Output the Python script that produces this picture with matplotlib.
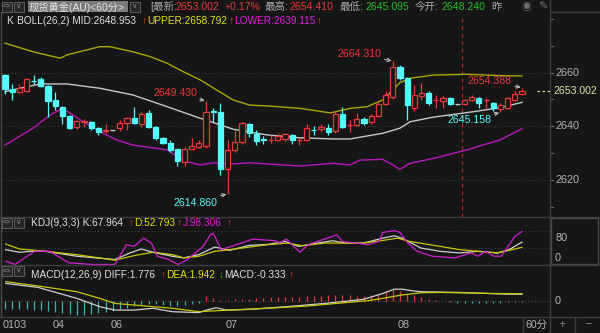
import matplotlib.pyplot as plt
import numpy as np
from matplotlib.patches import Rectangle
from matplotlib.transforms import blended_transform_factory as blend

plt.rcParams['font.family'] = ['Liberation Sans', 'Noto Sans CJK SC', 'DejaVu Sans']

# 60分钟K线 (开, 高, 低, 收)
opens = [2659.1, 2653.9, 2652.7, 2653.3, 2657.0, 2657.5, 2655.0, 2649.8, 2647.3, 2643.8,
         2639.6, 2641.7, 2641.7, 2639.5, 2638.4, 2638.5, 2639.3, 2641.1, 2643.0, 2640.7,
         2644.8, 2639.9, 2635.7, 2633.9, 2631.4, 2626.8, 2631.4, 2632.4, 2632.6, 2645.7,
         2645.4, 2624.0, 2631.2, 2634.3, 2640.9, 2637.1, 2635.1, 2634.9, 2634.9, 2635.2,
         2636.7, 2634.8, 2634.9, 2638.7, 2639.1, 2639.5, 2638.2, 2644.5, 2640.4, 2640.5,
         2642.6, 2641.7, 2643.8, 2648.2, 2651.0, 2662.2, 2658.1, 2646.7, 2651.4, 2652.5,
         2649.7, 2649.4, 2650.7, 2648.2, 2648.2, 2649.8, 2650.7, 2649.7, 2648.6, 2646.4,
         2646.7, 2649.8, 2652.2]
highs = [2659.5, 2655.7, 2655.8, 2657.9, 2659.1, 2658.3, 2655.3, 2652.7, 2647.6, 2644.2,
         2642.3, 2642.6, 2642.0, 2639.8, 2640.9, 2638.6, 2642.3, 2643.5, 2647.3, 2645.4,
         2646.1, 2640.2, 2636.0, 2634.9, 2631.6, 2632.4, 2635.5, 2634.9, 2649.43, 2646.7,
         2648.8, 2634.9, 2638.6, 2641.7, 2641.2, 2638.6, 2636.3, 2636.7, 2637.4, 2637.5,
         2637.0, 2635.8, 2640.8, 2640.0, 2640.7, 2640.7, 2645.7, 2647.3, 2642.4, 2644.8,
         2643.6, 2644.6, 2649.2, 2653.0, 2664.31, 2663.0, 2658.4, 2655.5, 2656.0, 2653.0,
         2651.7, 2651.4, 2651.0, 2648.3, 2650.2, 2651.5, 2651.0, 2650.7, 2649.2, 2648.6,
         2651.0, 2653.2, 2654.388]
lows = [2652.1, 2649.8, 2652.3, 2652.9, 2655.8, 2654.8, 2643.6, 2646.1, 2640.9, 2639.1,
        2638.9, 2639.8, 2638.6, 2636.6, 2637.4, 2638.4, 2638.2, 2638.6, 2640.8, 2639.8,
        2639.2, 2634.9, 2633.4, 2630.6, 2625.2, 2625.2, 2631.0, 2632.0, 2632.0, 2641.7,
        2621.8, 2614.86, 2630.3, 2633.5, 2636.1, 2633.0, 2633.4, 2633.9, 2634.6, 2634.5,
        2633.5, 2632.9, 2634.5, 2636.7, 2638.0, 2636.7, 2637.4, 2639.5, 2638.0, 2640.2,
        2640.6, 2641.0, 2643.4, 2647.8, 2650.0, 2657.2, 2642.4, 2645.8, 2649.8, 2648.0,
        2646.7, 2646.9, 2647.9, 2648.1, 2647.8, 2649.4, 2646.7, 2646.7, 2645.6, 2645.158,
        2646.4, 2649.4, 2651.6]
closes = [2653.8, 2652.7, 2654.2, 2657.6, 2656.9, 2655.0, 2649.6, 2647.6, 2643.8, 2639.5,
          2642.0, 2641.8, 2639.5, 2638.0, 2638.5, 2638.5, 2641.1, 2643.2, 2641.1, 2644.6,
          2639.9, 2635.5, 2633.9, 2631.2, 2627.2, 2631.4, 2632.6, 2633.7, 2645.4, 2645.4,
          2624.0, 2631.2, 2634.3, 2641.1, 2637.6, 2634.5, 2634.9, 2635.0, 2636.4, 2637.0,
          2634.9, 2634.9, 2639.3, 2638.5, 2639.9, 2638.0, 2644.5, 2639.9, 2640.6, 2642.6,
          2641.1, 2644.0, 2648.2, 2651.7, 2662.2, 2658.1, 2648.0, 2651.7, 2652.3, 2648.6,
          2649.9, 2650.4, 2648.2, 2648.2, 2649.8, 2651.0, 2648.6, 2649.9, 2646.7, 2648.0,
          2650.4, 2651.9, 2653.002]

# BOLL(26,2) 读取的采样点 (K线序号, 价格)
upper_idx = [0, 3.9, 7.7, 8.6, 13.2, 14.6, 17.8, 20.2, 22.6, 24.8, 27.2, 29.5, 31.8, 34.1, 36.5,
             41.1, 45.3, 48.1, 50.4, 52.6, 54.0, 55.0, 56.4, 59.6, 64.3, 68.9, 72]
upper_val = [2671.0, 2667.8, 2665.4, 2666.6, 2669.7, 2669.7, 2667.8, 2666.0, 2663.5, 2660.4,
             2657.3, 2653.5, 2649.8, 2647.9, 2647.6, 2646.7, 2645.0, 2646.7, 2647.3, 2649.8,
             2653.5, 2656.3, 2657.9, 2659.1, 2659.4, 2658.9, 2658.792]
mid_idx = [0, 2.1, 4.9, 8.6, 13.2, 17.8, 22.6, 27.2, 31.8, 36.5, 41.1, 45.7, 48.1, 52.6, 55.0,
           56.4, 59.6, 64.3, 68.9, 72]
mid_val = [2652.9, 2654.2, 2655.8, 2655.8, 2654.2, 2651.7, 2647.3, 2643.0, 2638.9, 2636.8,
           2635.7, 2635.3, 2635.3, 2637.4, 2639.3, 2641.7, 2643.4, 2645.1, 2646.9, 2648.953]
lower_idx = [0, 3.9, 6.3, 7.7, 8.6, 10.9, 13.2, 15.6, 17.8, 22.6, 24.8, 27.2, 29.0, 31.8, 34.1,
             41.1, 45.7, 48.1, 49.4, 52.6, 54.0, 55.0, 56.4, 59.6, 64.3, 68.9, 72]
lower_val = [2633.0, 2639.3, 2644.2, 2646.3, 2645.7, 2641.7, 2638.0, 2634.9, 2633.0, 2631.2,
             2627.2, 2625.6, 2626.4, 2626.0, 2626.4, 2625.2, 2626.2, 2625.6, 2627.4, 2627.7,
             2625.6, 2624.0, 2626.2, 2628.0, 2631.2, 2634.9, 2639.115]

# KDJ(9,3,3)
k_idx = [0.1, 2.0, 3.6, 5.7, 10.0, 15.3, 17.4, 19.0, 20.6, 23.3, 24.9, 27.0, 29.2, 31.3, 34.0,
         36.6, 39.0, 40.9, 43.5, 45.7, 47.3, 49.9, 52.6, 54.2, 55.3, 57.9, 60.6, 63.3, 65.9,
         68.6, 70.2, 72]
k_val = [46.2, 38.6, 41.4, 41.4, 27.2, 17.7, 36.7, 48.1, 38.6, 27.2, 22.5, 31.9, 53.7, 44.3,
         58.5, 61.3, 69.9, 55.6, 65.1, 71.8, 65.1, 65.1, 79.3, 86.0, 79.3, 50.9, 41.4, 36.7,
         41.4, 36.7, 46.2, 67.964]
d_idx = [0.1, 2.0, 4.6, 10.0, 15.3, 18.0, 20.6, 23.3, 24.9, 27.0, 29.2, 31.3, 36.6, 39.3, 41.4,
         44.6, 47.3, 49.9, 52.6, 54.7, 56.3, 60.6, 63.3, 65.9, 68.6, 72]
d_val = [62.3, 48.1, 43.3, 31.9, 15.8, 29.1, 38.6, 31.9, 22.5, 27.2, 41.4, 46.2, 60.4, 65.1,
         57.5, 65.1, 65.1, 65.1, 72.7, 79.3, 69.9, 55.6, 46.2, 41.4, 36.7, 52.793]
j_idx = [0.1, 1.4, 4.1, 6.2, 8.9, 12.1, 15.3, 16.9, 18.0, 19.3, 20.4, 21.2, 22.8, 24.1, 25.4,
         26.5, 27.6, 28.6, 29.0, 30.1, 32.9, 34.5, 37.7, 38.2, 39.2, 40.1, 41.1, 42.2, 43.5,
         44.9, 46.2, 47.0, 48.9, 50.5, 52.1, 52.6, 54.2, 55.0, 56.1, 57.4, 59.5, 62.7, 64.9,
         65.9, 66.9, 68.1, 69.1, 69.9, 71.0, 72]
j_val = [13.0, 3.5, 41.4, 41.4, 8.2, 3.5, 3.5, 60.4, 55.6, 79.3, 65.1, 27.2, 17.7, 3.5, 17.7,
         36.7, 55.6, 88.8, 93.6, 46.2, 65.1, 76.5, 71.8, 65.1, 76.5, 57.5, 38.6, 60.4, 69.9,
         79.3, 88.8, 69.9, 65.1, 60.4, 69.9, 95.5, 101.1, 95.5, 65.1, 41.4, 27.2, 22.5, 36.7,
         27.2, 41.4, 27.2, 27.2, 50.9, 84.1, 98.306]

# MACD(12,26,9)
diff_idx = [0.1, 4.6, 10.0, 13.2, 15.3, 18.0, 20.6, 23.3, 27.0, 28.1, 29.4, 30.8, 34.0, 39.3,
            44.6, 49.9, 52.6, 54.2, 55.3, 56.9, 57.9, 63.3, 68.6, 72]
diff_val = [4.8, 3.7, 0.65, -1.65, -2.6, -2.6, -2.1, -3.05, -3.3, -2.6, -1.95, -2.6, -2.4,
            -1.65, -0.74, 0.37, 2.0, 3.2, 3.2, 2.7, 2.5, 2.3, 1.9, 1.776]
dea_idx = [0.1, 4.6, 10.0, 13.2, 15.3, 20.6, 23.3, 27.0, 29.2, 31.3, 36.6, 41.9, 47.3, 50.5,
           52.6, 55.3, 57.9, 60.6, 65.9, 68.6, 72]
dea_val = [5.3, 4.1, 2.5, 0.65, -0.74, -1.65, -2.1, -3.05, -2.8, -2.6, -2.1, -1.5, -0.55, 0.0,
           0.65, 1.6, 2.2, 2.3, 2.1, 2.0, 1.942]
macd_bar = [-2.4, -2.4, -2.4, -2.4, -2.5, -2.7, -2.9, -3.2, -3.5, -3.8,
            -3.9, -3.9, -3.7, -3.5, -3.2, -2.8, -2.3, -1.9, -1.5, -1.2,
            -1.0, -1.0, -1.2, -1.4, -1.5, -1.3, -1.0, -0.6, 1.3, 0.8,
            0.3, 0.2, 0.4, 0.5, 0.6, 0.7, 0.8, 0.9, 1.0, 1.0,
            1.1, 1.1, 1.2, 1.3, 1.4, 1.5, 1.6, 1.6, 1.5, 1.4,
            1.3, 1.6, 2.0, 2.6, 3.3, 2.6, 2.0, 1.5, 1.0, 0.6,
            0.3, -0.2, -0.4, -0.5, -0.6, -0.6, -0.6, -0.6, -0.5, -0.5,
            -0.4, -0.4, -0.333]

day_idx = [0, 7, 15, 31, 55]
day_labels = ['0103', '04', '06', '07', '08']
price_ticks = [2660, 2640, 2620]
now_idx = 63.7   # 红色竖虚线

bg = '#161616'
red = '#e8383c'
cyan = '#54fcfc'
grid_c = '#3a3a3a'
sep_c = '#3c3c3c'
W, H = 600, 333
TFS = 7.3   # 标题字号


def fx(x):
    return x / W


def fy(y):
    return 1 - y / H


fig = plt.figure(figsize=(6, 3.33), dpi=100, facecolor=bg)

ax = fig.add_axes([fx(1), fy(216.7), 549 / W, 216.7 / H])
ax_k = fig.add_axes([fx(1), fy(265), 549 / W, 48.3 / H])
ax_m = fig.add_axes([fx(1), fy(316.7), 549 / W, 51.7 / H])
for a in (ax, ax_k, ax_m):
    a.set_facecolor(bg)
    a.set_xlim(-0.557, 75.9)
    a.set_xticks([])
    a.set_yticks([])
    for s in a.spines.values():
        s.set_visible(False)
ax.set_ylim(2606.3, 2687.1)
ax_k.set_ylim(2, 141)
ax_m.set_ylim(-4.44, 9.92)

# 网格
for v in price_ticks:
    ax.axhline(v, color=grid_c, ls=(0, (1, 2)), lw=0.8)
for v in (100, 50):
    ax_k.axhline(v, color=grid_c, ls=(0, (1, 2)), lw=0.8)
ax_m.axhline(0, color='#505050', ls=(0, (1, 2)), lw=0.8)

# 布林带
ax.plot(upper_idx, upper_val, color='#a8a800', lw=1.0, zorder=2)
ax.plot(mid_idx, mid_val, color='#c8c8c8', lw=1.0, zorder=2)
ax.plot(lower_idx, lower_val, color='#b818b8', lw=1.0, zorder=2)

# K线
for i, (o, h, l, c) in enumerate(zip(opens, highs, lows, closes)):
    col = red if c > o else (cyan if c < o else '#c8c8c8')
    ax.vlines(i, l, h, color=col, lw=0.9, zorder=3)
    if c != o:
        fc = bg if c > o else col
        ax.add_patch(Rectangle((i - 0.36, min(o, c)), 0.72, abs(c - o),
                               facecolor=fc, edgecolor=col, lw=0.9, zorder=4))
    else:
        ax.hlines(o, i - 0.36, i + 0.36, color=col, lw=0.9, zorder=4)

ax.axvline(now_idx, color='#c02020', ls=(0, (3, 3)), lw=0.9, ymax=0.93, zorder=1)

# 高低点标注
marks = [(54, 2664.31, '2664.310', red, -11, 7),
         (28, 2649.43, '2649.430', red, -9, 8),
         (31, 2614.86, '2614.860', cyan, -10, -9),
         (72, 2654.388, '2654.388', red, -10, 7),
         (69, 2645.158, '2645.158', cyan, -9, -8)]
for i, v, t, c, dx, dy in marks:
    ax.annotate(t, xy=(i, v), xytext=(dx, dy), textcoords='offset pixels',
                ha='right', va='center', color=c, fontsize=7.6, zorder=6,
                arrowprops=dict(arrowstyle='->', color='#c8c8c8', lw=0.7,
                                shrinkA=0, shrinkB=1, mutation_scale=6))

# KDJ
ax_k.plot(k_idx, k_val, color='#d0d0d0', lw=0.9)
ax_k.plot(d_idx, d_val, color='#c8c800', lw=0.9)
ax_k.plot(j_idx, j_val, color='#d020d0', lw=0.9)

# MACD
bar_x = np.arange(len(macd_bar))
bar_c = [red if b > 0 else '#3cb4b4' for b in macd_bar]
ax_m.vlines(bar_x, 0, macd_bar, colors=bar_c, lw=0.9)
ax_m.plot(diff_idx, diff_val, color='#d0d0d0', lw=0.9)
ax_m.plot(dea_idx, dea_val, color='#c8c800', lw=0.9)

# 右侧价格刻度
tr = blend(fig.transFigure, ax.transData)
for v in price_ticks:
    ax.text(fx(555), v, str(v), transform=tr, color='#b4b4b4', fontsize=7.8,
            va='center', ha='left')
for v in range(2610, 2690, 10):
    ax.plot([fx(550), fx(553)], [v, v], transform=tr, color='#6a6a6a', lw=0.8, clip_on=False)
last = closes[-1]
ax.plot([fx(537), fx(550)], [last, last], transform=tr, color='#d8d880',
        ls=(0, (2, 2)), lw=0.9, clip_on=False)
ax.text(fx(554), last, '%.3f' % last, transform=tr, color='#e0e0a0', fontsize=7.6,
        va='center', ha='left')
trk = blend(fig.transFigure, ax_k.transData)
ax_k.text(fx(555), 80, '80', transform=trk, color='#b4b4b4', fontsize=7.8, va='center')
ax_k.text(fx(555), 23, '0', transform=trk, color='#b4b4b4', fontsize=7.8, va='center')
trm = blend(fig.transFigure, ax_m.transData)
ax_m.text(fx(555), 0, '0', transform=trm, color='#b4b4b4', fontsize=7.8, va='center')

# 日期
trx = blend(ax_m.transData, fig.transFigure)
for i, lab in zip(day_idx, day_labels):
    ax_m.text(i - 0.3, fy(325), lab, transform=trx, color='#b4b4b4', fontsize=7.8,
              va='center', ha='left')


# 分隔线
def hline(y, x0=0, x1=600, c=sep_c):
    fig.add_artist(plt.Line2D([fx(x0), fx(x1)], [fy(y), fy(y)], color=c, lw=1))


def vline(x, y0=0, y1=333, c=sep_c):
    fig.add_artist(plt.Line2D([fx(x), fx(x)], [fy(y0), fy(y1)], color=c, lw=1))


vline(550)
vline(1, 12, 317, '#4a4a4a')
hline(216.7)
hline(265)
hline(316.7)
hline(12, 550, 600)
vline(575, 317, 333)
vline(523, 317, 333)
fig.add_artist(Rectangle((fx(551), fy(264)), 47 / W, 46.5 / H, transform=fig.transFigure,
                         fill=False, edgecolor='#4a4a4a', lw=1))


# 标题栏
def seg(x, y, t, c, fs=TFS, **kw):
    fig.text(fx(x), fy(y), t, color=c, fontsize=fs, va='center', ha='left', **kw)


def icon_box(x, y, t):
    fig.add_artist(Rectangle((fx(x), fy(y + 10)), 10 / W, 10 / H, transform=fig.transFigure,
                             facecolor='#262626', edgecolor='#5a5a5a', lw=0.8))
    fig.text(fx(x + 5), fy(y + 5), t, color='#9a9a9a', fontsize=5, ha='center', va='center')


gray = '#a8a8a8'
green = '#22c022'
icon_box(2, 1.5, '<>')
icon_box(14, 1.5, 'v')
fig.add_artist(Rectangle((fx(28), fy(12)), 100 / W, 10.5 / H, transform=fig.transFigure,
                         facecolor='#7a7a7a', edgecolor='none'))
seg(29, 7, '现货黄金(AU)<60分>', '#e6e6e6', 7.4)
icon_box(130, 1.5, 'v')
seg(150, 7, '[最新:', gray, 7.6)
seg(175, 7, '2653.002', red, 7.6)
seg(225, 7, '+0.17%', red, 7.6)
seg(265, 7, '最高:', gray, 7.6)
seg(289, 7, '2654.410', red, 7.6)
seg(340, 7, '最低:', gray, 7.6)
seg(366, 7, '2645.095', green, 7.6)
seg(415, 7, '今开:', gray, 7.6)
seg(442, 7, '2648.240', green, 7.6)
seg(491, 7, '昨', gray, 7.6)
seg(521, 7, '◉', '#707070', 7)
seg(538, 7, '✎', '#707070', 8)

seg(6, 21.5, 'K', '#e0e0e0')
seg(17, 21.5, 'BOLL(26,2) MID:2648.953', '#e0e0e0')
seg(142, 21.5, '↑', red)
seg(147, 21.5, 'UPPER:2658.792', '#e0e000')
seg(229, 21.5, '↑', red)
seg(234, 21.5, 'LOWER:2639.115', '#e020e0')
seg(317, 21.5, '↑', red)

icon_box(2, 217.5, '<>')
icon_box(14, 217.5, 'v')
seg(31, 223, 'KDJ(9,3,3) K:67.964', '#e0e0e0')
seg(129, 223, '↑', red)
seg(134, 223, 'D:52.793', '#e0e000')
seg(177, 223, '↑', red)
seg(183, 223, 'J:98.306', '#e020e0')
seg(227, 223, '↑', red)

icon_box(2, 266, '<>')
icon_box(14, 266, 'v')
seg(31, 275, 'MACD(12,26,9) DIFF:1.776', '#e0e0e0')
seg(161, 275, '↑', red)
seg(166, 275, 'DEA:1.942', '#e0e000')
seg(219, 275, '↓', green)
seg(224, 275, 'MACD:-0.333', '#e0e0e0')
seg(289, 275, '↑', red)

seg(526, 325, '60分', '#b4b4b4', 7.6)
fig.text(fx(562), fy(325), '+', color='#7a7a7a', fontsize=9, ha='center', va='center')
fig.text(fx(588), fy(325), '−', color='#7a7a7a', fontsize=9, ha='center', va='center')

fig.savefig('out.png', dpi=100, facecolor=bg)
